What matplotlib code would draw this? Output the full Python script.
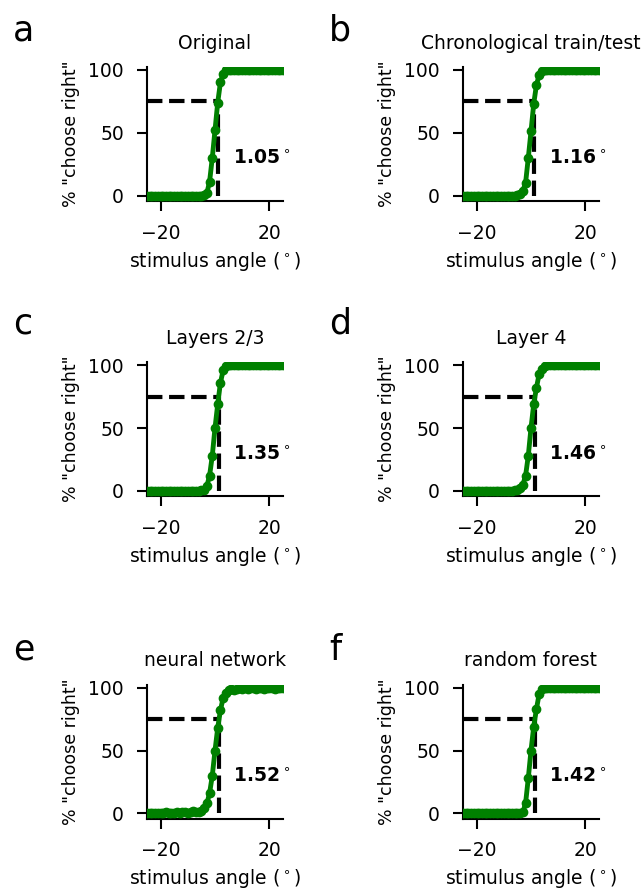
import matplotlib
matplotlib.use("Agg")
import matplotlib.pyplot as plt

plt.rcParams['font.family'] = ['DejaVu Sans']

# stimulus angles (deg) at which "choose right" percentages were measured
angles = [-25, -24, -23, -22, -21, -20, -19, -18, -17, -16, -15, -14, -13, -12,
          -11, -10, -9, -8, -7, -6, -5, -4, -3, -2, -1, 0, 1, 2, 3, 4, 5, 6,
          7, 8, 9, 10, 11, 12, 13, 14, 15, 16, 17, 18, 19, 20, 21, 22, 23, 24, 25]

titles = ["Original", "Chronological train/test", "Layers 2/3", "Layer 4",
          "neural network", "random forest"]
panel_letters = ["a", "b", "c", "d", "e", "f"]
thresholds = [1.05, 1.16, 1.35, 1.46, 1.52, 1.42]

_lo = [0] * 19   # angles -25 .. -7
_hi = [100] * 20  # angles 6 .. 25

# angles -6 .. 5 carry the transition
pct_original = _lo + [0, 0, 0.5, 2, 11, 30, 52, 74, 90, 97, 99.5, 100] + _hi
pct_chrono = _lo + [0, 0.5, 1, 4, 10, 30, 51, 73, 88, 96, 99, 100] + _hi
pct_layers23 = _lo + [0, 0.5, 1, 4, 12, 28, 50, 69, 86, 96, 99, 100] + _hi
pct_layer4 = _lo + [0.5, 1, 2, 5, 12, 28, 50, 69, 82, 93, 97, 99] + _hi
pct_nn = ([0, 0, 0.5, 0, 0, 0, 0.5, 1, 0.5, 0, 0.5, 1, 0.5, 1, 1, 0.5, 1, 2, 1]
          + [1, 2, 4, 8, 16, 30, 50, 68, 82, 92, 96, 98]
          + [99, 98, 99, 100, 99, 100, 99, 100, 100, 99, 100, 100, 99, 100, 100,
             100, 99, 100, 100, 100])
pct_rf = _lo + [0, 0, 0, 1, 8, 28, 50, 69, 83, 95, 99, 100] + _hi

series = [pct_original, pct_chrono, pct_layers23, pct_layer4, pct_nn, pct_rf]

fig = plt.figure(figsize=(6.42, 8.9), dpi=100)

W, H = 642.0, 890.0
lefts = [147, 463]
bottoms = [200.7, 496, 818.5]
letter_baselines = [40.7, 333.3, 660]
ax_w, ax_h = 136, 134

for i, (title, pct, thr, letter) in enumerate(zip(titles, series, thresholds, panel_letters)):
    row, col = divmod(i, 2)
    ax = fig.add_axes([lefts[col] / W, 1 - bottoms[row] / H, ax_w / W, ax_h / H])
    ax.plot(angles, pct, color='green', lw=3.5, marker='o', ms=6, zorder=3)
    ax.plot([-25, thr], [75, 75], 'k--', lw=3, zorder=2)
    ax.plot([thr, thr], [0, 75], 'k--', lw=3, zorder=2)
    ax.text(6.5, 30, r"$\mathbf{%.2f}^\circ$" % thr, fontsize=13.5, va='center', ha='left')
    ax.set_xlim(-25, 25)
    ax.set_ylim(-4, 102.5)
    ax.set_xticks([-20, 20])
    ax.set_yticks([0, 50, 100])
    ax.spines['top'].set_visible(False)
    ax.spines['right'].set_visible(False)
    for s in ('left', 'bottom'):
        ax.spines[s].set_linewidth(1.5)
    ax.tick_params(width=1.5, length=7.5, labelsize=13.5, pad=9)
    ax.set_xlabel(r"stimulus angle ($^\circ$)", fontsize=13.5, labelpad=5)
    ax.set_ylabel('% "choose right"', fontsize=12.5, labelpad=6)
    ax.set_title(title, fontsize=13.5, pad=13)
    fig.text((lefts[col] - 134) / W, 1 - letter_baselines[row] / H, letter,
             fontsize=25, va='baseline', ha='left')

fig.savefig("out.png", dpi=100)
